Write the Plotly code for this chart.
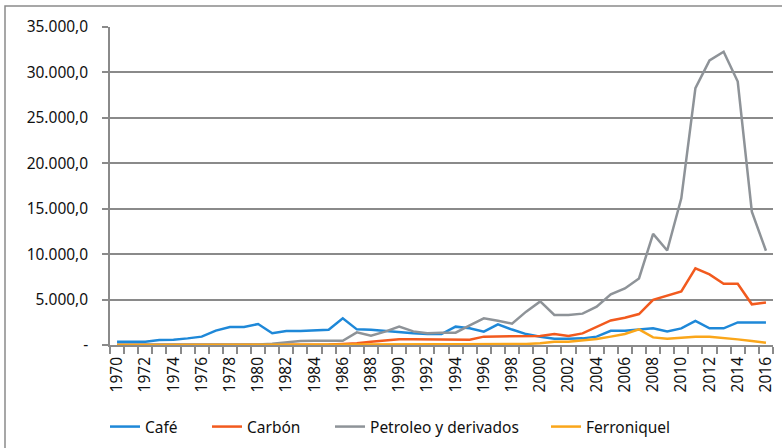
import plotly.graph_objects as go

years = list(range(1970, 2017))

cafe = [370, 370, 370, 550, 590, 730, 920, 1580, 1980, 1980, 2310, 1300,
        1540, 1540, 1610, 1690, 2930, 1720, 1690, 1540, 1400, 1300, 1210, 1210,
        2020, 1850, 1470, 2270, 1700, 1200, 900, 700, 700, 730, 920, 1570,
        1570, 1700, 1830, 1500, 1830, 2660, 1830, 1830, 2480, 2480, 2480]

carbon = [0, 0, 0, 0, 0, 0, 0, 0, 0, 0, 0, 0,
          0, 0, 0, 50, 100, 180, 370, 480, 620, 620, 620, 600,
          580, 580, 920, 920, 920, 930, 990, 1210, 1000, 1280, 1950, 2700,
          3000, 3410, 4980, 5450, 5900, 8430, 7770, 6750, 6750, 4480, 4680]

petroleo = [50, 50, 50, 50, 50, 50, 50, 50, 50, 50, 50, 150,
            330, 450, 470, 470, 470, 1390, 1030, 1470, 2020, 1500, 1300, 1350,
            1350, 2170, 2930, 2660, 2350, 3670, 4800, 3300, 3300, 3450, 4220, 5570,
            6230, 7330, 12230, 10400, 16140, 28270, 31330, 32280, 29000, 14680, 10370]

ferroniquel = [0, 0, 0, 0, 0, 0, 0, 0, 0, 0, 0, 0,
               30, 40, 50, 50, 60, 60, 70, 70, 80, 80, 80, 80,
               90, 90, 100, 100, 100, 120, 180, 370, 370, 480, 660, 920,
               1210, 1720, 840, 700, 840, 920, 920, 810, 620, 440, 260]

series_names = ["Café", "Carbón", "Petroleo y derivados", "Ferroniquel"]
series_values = [cafe, carbon, petroleo, ferroniquel]
series_colors = ["#1E88D8", "#F25A1E", "#8E9398", "#FAA61A"]

y_tickvals = [0, 5000, 10000, 15000, 20000, 25000, 30000, 35000]
y_ticktext = ["-", "5.000,0", "10.000,0", "15.000,0", "20.000,0", "25.000,0", "30.000,0", "35.000,0"]
x_tickvals = years[::2]
x_ticktext = [str(y) for y in x_tickvals]

# legend entry start positions in pixels (layout only)
legend_px = [110, 212, 335, 551]
legend_ids = ["legend", "legend2", "legend3", "legend4"]

fig = go.Figure()
for name, vals, col, lid in zip(series_names, series_values, series_colors, legend_ids):
    fig.add_trace(go.Scatter(x=years, y=vals, name=name, mode="lines", legend=lid,
                             line=dict(color=col, width=2.5)))

grid = "#8a8a8a"
legend_layout = {}
for lid, px in zip(legend_ids, legend_px):
    legend_layout[lid] = dict(orientation="h", x=(px - 5 - 110) / 663, xanchor="left",
                              y=(345 - 427) / 318, yanchor="middle", bgcolor="rgba(0,0,0,0)",
                              font=dict(size=15.5, color="#111111"), itemwidth=30)

fig.update_layout(
    width=782, height=448,
    margin=dict(l=110, r=9, t=27, b=103, autoexpand=False),
    paper_bgcolor="white", plot_bgcolor="white",
    font=dict(family="Noto Sans", size=14, color="#111111"),
    showlegend=True,
    xaxis=dict(range=[1969.5, 2016.5], tickmode="array", tickvals=x_tickvals,
               ticktext=x_ticktext, tickangle=-90, ticks="", showgrid=False,
               showline=True, linecolor=grid, linewidth=1.5, zeroline=False,
               automargin=False, tickfont=dict(size=15.5), ticklabelstandoff=4,
               minor=dict(ticks="outside", tick0=1969.5, dtick=1, ticklen=7,
                          tickcolor=grid, tickwidth=1.5, showgrid=False)),
    yaxis=dict(range=[0, 35000], tickmode="array", tickvals=y_tickvals,
               ticktext=y_ticktext, showgrid=True, gridcolor=grid, gridwidth=1.5,
               showline=True, linecolor=grid, linewidth=1.5, zeroline=False,
               automargin=False,
               ticks="outside", ticklen=6, tickcolor=grid, tickwidth=1.5,
               ticklabelstandoff=11, tickfont=dict(size=15.5)),
    shapes=[dict(type="rect", xref="paper", yref="paper",
                 x0=(5 - 110) / 663, x1=(790 - 110) / 663,
                 y0=(345 - 455) / 318, y1=(345 - 6) / 318,
                 line=dict(color="#8a8a8a", width=1.5), layer="below")],
    **legend_layout,
)

fig.write_html("out.html", config={"displayModeBar": False},
               post_script="document.body.style.margin='0';document.body.style.padding='0';")
